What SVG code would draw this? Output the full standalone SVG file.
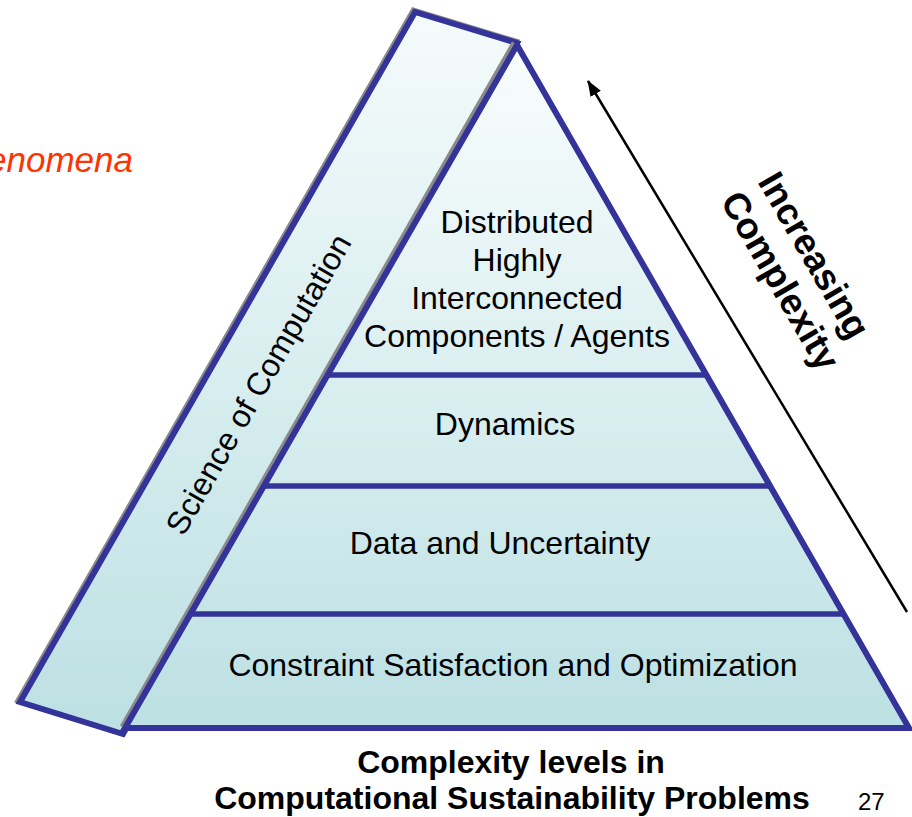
<svg xmlns="http://www.w3.org/2000/svg" width="912" height="817" viewBox="0 0 912 817">
  <style>
    .body { font-family: "Liberation Sans", Arial, sans-serif; font-size: 32px; fill: #000; }
    .bold { font-family: "Liberation Sans", Arial, sans-serif; font-size: 32px; font-weight: bold; fill: #000; }
    .big { font-size: 37px; }
    .small { font-size: 24px; }
    .edge { stroke: #333399; stroke-width: 6; stroke-linejoin: miter; }
    .shade { fill: none; stroke: #8a8a8a; stroke-width: 6; }
    .band { stroke: #333399; stroke-width: 5.5; }
  </style>
  <defs>
    <linearGradient id="pyrFill" gradientUnits="userSpaceOnUse" x1="0" y1="45" x2="0" y2="728">
      <stop offset="0" stop-color="#f9fdfd"/>
      <stop offset="1" stop-color="#bce0e3"/>
    </linearGradient>
    <linearGradient id="slabFill" gradientUnits="userSpaceOnUse" x1="0" y1="12" x2="0" y2="734">
      <stop offset="0" stop-color="#f5fbfb"/>
      <stop offset="1" stop-color="#bce0e3"/>
    </linearGradient>
    <marker id="arrowHead" viewBox="0 0 16 12" refX="15" refY="6" markerWidth="16" markerHeight="12" markerUnits="userSpaceOnUse" orient="auto">
      <path d="M0,0 L16,6 L0,12 Z" fill="#000"/>
    </marker>
  </defs>

  <!-- caption running off the left edge -->
  <text x="133" y="172" text-anchor="end" font-family="Liberation Sans, Arial, sans-serif" font-size="35" font-style="italic" fill="#ff3300">enomena</text>

  <!-- side slab -->
  <g id="science-of-computation">
    <path class="shade" d="M413.5,10.5 L515.5,41.5 L121.5,732.5 L18.5,700.5 Z"/>
    <path d="M415,12 L517,43 L123,734 L20,702 Z" fill="url(#slabFill)" class="edge"/>
    <text class="body" text-anchor="middle" transform="translate(258,384) rotate(-60.2)" y="11.5">Science of Computation</text>
  </g>

  <!-- pyramid -->
  <g id="pyramid">
    <path d="M516,44 L124,728" class="shade" transform="translate(-1.5,-1)"/>
    <path d="M517,45 L125,728 L909,728 Z" fill="url(#pyrFill)" class="edge"/>
  </g>

  <g id="level-agents">
    <text class="body" text-anchor="middle" x="517" y="233">Distributed</text>
    <text class="body" text-anchor="middle" x="517" y="271">Highly</text>
    <text class="body" text-anchor="middle" x="517" y="309">Interconnected</text>
    <text class="body" text-anchor="middle" x="517" y="347">Components / Agents</text>
  </g>

  <g id="level-dynamics">
    <line class="band" x1="328" y1="375" x2="706" y2="375"/>
    <text class="body" text-anchor="middle" x="505" y="435">Dynamics</text>
  </g>

  <g id="level-data">
    <line class="band" x1="264" y1="486" x2="770" y2="486"/>
    <text class="body" text-anchor="middle" x="500" y="554">Data and Uncertainty</text>
  </g>

  <g id="level-constraints">
    <line class="band" x1="190" y1="614" x2="844" y2="614"/>
    <text class="body" text-anchor="middle" x="513" y="676">Constraint Satisfaction and Optimization</text>
  </g>

  <!-- complexity arrow -->
  <g id="connectors">
    <line x1="907" y1="612" x2="588" y2="81" stroke="#000" stroke-width="2.5" marker-end="url(#arrowHead)"/>
  </g>

  <g id="increasing-complexity">
    <text class="bold big" text-anchor="middle" transform="translate(799,270) rotate(60)">
      <tspan x="0" y="-8">Increasing</tspan>
      <tspan x="0" y="34">Complexity</tspan>
    </text>
  </g>

  <g id="caption">
    <text class="bold" text-anchor="middle" x="511" y="773">Complexity levels in</text>
    <text class="bold" text-anchor="middle" x="512" y="809">Computational Sustainability Problems</text>
    <text class="body small" x="858" y="810">27</text>
  </g>
</svg>
